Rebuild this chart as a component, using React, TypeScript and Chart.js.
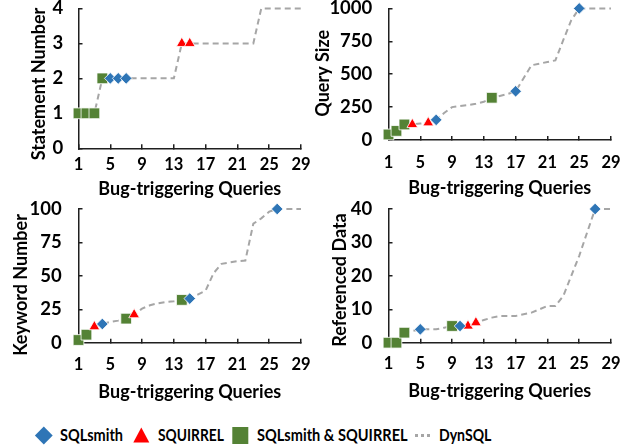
import React, { useEffect, useRef } from "react";
import { Chart, registerables } from "chart.js";

Chart.register(...registerables);

const FONT = "Lato, 'Open Sans', sans-serif";
const BLUE = "#2E75B6";
const RED = "#FF0000";
const GREEN = "#548235";
const GRAY = "#A6A6A6";
const AXIS = "#1f1f1f";

// ---------- data ----------
const queryIndex = [1, 2, 3, 4, 5, 6, 7, 8, 9, 10, 11, 12, 13, 14, 15, 16, 17, 18, 19, 20, 21, 22, 23, 24, 25, 26, 27, 28, 29];
const xTickValues = [1, 5, 9, 13, 17, 21, 25, 29];
const xAxisTitle = "Bug-triggering Queries";

// Statement Number
const stmtYTicks = [0, 1, 2, 3, 4];
const stmtDynSQL = [1, 1, 1, 2, 2, 2, 2, 2, 2, 2, 2, 2, 2, 3, 3, 3, 3, 3, 3, 3, 3, 3, 3, 4, 4, 4, 4, 4, 4];
const stmtSqlsmithX = [5, 6, 7];
const stmtSqlsmithY = [2, 2, 2];
const stmtSquirrelX = [14, 15];
const stmtSquirrelY = [3, 3];
const stmtBothX = [1, 2, 3, 4];
const stmtBothY = [1, 1, 1, 2];

// Query Size
const sizeYTicks = [0, 250, 500, 750, 1000];
const sizeDynSQL = [42, 69, 118, 118, 125, 131, 153, 205, 250, 258, 265, 275, 290, 321, 335, 350, 370, 470, 568, 580, 593, 605, 760, 910, 1000, 1000, 1000, 1000, 1000];
const sizeSqlsmithX = [7, 17, 25];
const sizeSqlsmithY = [153, 370, 1000];
const sizeSquirrelX = [4, 6];
const sizeSquirrelY = [118, 131];
const sizeBothX = [1, 2, 3, 14];
const sizeBothY = [42, 69, 118, 321];

// Keyword Number
const kwYTicks = [0, 25, 50, 75, 100];
const kwDynSQL = [2, 6, 12, 14, 15.5, 16.5, 18, 21, 25.5, 28, 29.5, 30.5, 31, 32, 33, 36, 39, 52, 59, 60, 61, 61.5, 89, 93, 98, 100, 100, 100, 100];
const kwSqlsmithX = [4, 15, 26];
const kwSqlsmithY = [14, 33, 100];
const kwSquirrelX = [3, 8];
const kwSquirrelY = [12, 21];
const kwBothX = [1, 2, 7, 14];
const kwBothY = [2, 6, 18, 32];

// Referenced Data
const refYTicks = [0, 10, 20, 30, 40];
const refDynSQL = [0, 0, 3, 3.5, 4, 4, 4, 4.5, 5, 5, 5, 6, 6.8, 7.5, 8, 8, 8, 8.5, 9, 10, 11, 11, 14, 20, 26, 33, 40, 40, 40];
const refSqlsmithX = [5, 10, 27];
const refSqlsmithY = [4, 5, 40];
const refSquirrelX = [11, 12];
const refSquirrelY = [5, 6];
const refBothX = [1, 2, 3, 9];
const refBothY = [0, 0, 3, 5];

const legendLabels = ["SQLsmith", "SQUIRREL", "SQLsmith & SQUIRREL", "DynSQL"];

// ---------- panels (layout in page pixels) ----------
type Geom = {
  cl: number; ct: number; cw: number; ch: number;
  left: number; right: number; top: number; bottom: number;
  xTickY: number; xTitleY: number; yTickRight: number; yTitleX: number; yTitleY: number;
};
type PanelDef = {
  yTitle: string; yTicks: number[]; dyn: number[];
  smX: number[]; smY: number[]; sqX: number[]; sqY: number[]; bX: number[]; bY: number[];
  g: Geom;
};

const panels: PanelDef[] = [
  {
    yTitle: "Statement Number", yTicks: stmtYTicks, dyn: stmtDynSQL,
    smX: stmtSqlsmithX, smY: stmtSqlsmithY, sqX: stmtSquirrelX, sqY: stmtSquirrelY, bX: stmtBothX, bY: stmtBothY,
    g: { cl: 0, ct: 0, cw: 315, ch: 200, left: 78.5, right: 301, top: 5, bottom: 148.3, xTickY: 164.7, xTitleY: 189.3, yTickRight: 63.3, yTitleX: 39.3, yTitleY: 84 },
  },
  {
    yTitle: "Query Size", yTicks: sizeYTicks, dyn: sizeDynSQL,
    smX: sizeSqlsmithX, smY: sizeSqlsmithY, sqX: sizeSquirrelX, sqY: sizeSquirrelY, bX: sizeBothX, bY: sizeBothY,
    g: { cl: 305, ct: 0, cw: 326, ch: 200, left: 388.5, right: 611, top: 5, bottom: 140, xTickY: 163, xTitleY: 188, yTickRight: 372.3, yTitleX: 323.3, yTitleY: 73.3 },
  },
  {
    yTitle: "Keyword Number", yTicks: kwYTicks, dyn: kwDynSQL,
    smX: kwSqlsmithX, smY: kwSqlsmithY, sqX: kwSquirrelX, sqY: kwSquirrelY, bX: kwBothX, bY: kwBothY,
    g: { cl: 0, ct: 200, cw: 315, ch: 210, left: 78.5, right: 301, top: 209, bottom: 342.7, xTickY: 365, xTitleY: 391.7, yTickRight: 61.7, yTitleX: 20.8, yTitleY: 285 },
  },
  {
    yTitle: "Referenced Data", yTicks: refYTicks, dyn: refDynSQL,
    smX: refSqlsmithX, smY: refSqlsmithY, sqX: refSquirrelX, sqY: refSquirrelY, bX: refBothX, bY: refBothY,
    g: { cl: 305, ct: 200, cw: 326, ch: 210, left: 388.5, right: 611, top: 209, bottom: 342.7, xTickY: 363.3, xTitleY: 390.7, yTickRight: 372.3, yTitleX: 340, yTitleY: 280 },
  },
];

const TICK_LEN = 4;
const X_TICK_FONT = 16.5;
const Y_TICK_FONT = 18.5;
const TITLE_FONT = 18;
const LEGEND_FONT = 17;

function pts(xs: number[], ys: number[]) {
  return xs.map((x, i) => ({ x, y: ys[i] }));
}

function Panel({ p }: { p: PanelDef }) {
  const ref = useRef<HTMLCanvasElement>(null);
  const g = p.g;
  useEffect(() => {
    if (!ref.current) return;
    const yW = g.left - g.cl;
    const padRight = g.cl + g.cw - g.right;
    const padTop = g.top - g.ct;
    const xH = g.ct + g.ch - g.bottom;
    const xTickPad = g.xTickY - g.bottom + TICK_LEN - (X_TICK_FONT * 1.2) / 2;
    const xTitlePad = Math.max(0, g.ct + g.ch - g.xTitleY - (TITLE_FONT * 1.2) / 2);
    const yTickPad = g.left + TICK_LEN - g.yTickRight;

    const yTitlePlugin = {
      id: "yTitle",
      afterDraw(chart: any) {
        const ctx = chart.ctx;
        ctx.save();
        ctx.translate(g.yTitleX - g.cl, g.yTitleY - g.ct);
        ctx.rotate(-Math.PI / 2);
        ctx.font = `bold ${TITLE_FONT}px ${FONT}`;
        ctx.fillStyle = "#000";
        ctx.textAlign = "center";
        ctx.textBaseline = "middle";
        ctx.fillText(p.yTitle, 0, 0);
        ctx.restore();
      },
    };

    const chart = new Chart(ref.current, {
      type: "scatter",
      data: {
        datasets: [
          {
            label: legendLabels[0],
            data: pts(p.smX, p.smY),
            pointStyle: "rectRot",
            pointRadius: 5.8,
            backgroundColor: BLUE,
            borderColor: "#ffffff",
            borderWidth: 0.8,
            order: 1,
            clip: false,
          },
          {
            label: legendLabels[1],
            data: pts(p.sqX, p.sqY),
            pointStyle: "triangle",
            pointRadius: 6.2,
            backgroundColor: RED,
            borderColor: "#ffffff",
            borderWidth: 0.8,
            order: 2,
            clip: false,
          },
          {
            label: legendLabels[2],
            data: pts(p.bX, p.bY),
            pointStyle: "rect",
            pointRadius: 7.6,
            backgroundColor: GREEN,
            borderColor: "#ffffff",
            borderWidth: 0.8,
            order: 3,
            clip: false,
          },
          {
            label: legendLabels[3],
            data: pts(queryIndex, p.dyn),
            showLine: true,
            pointRadius: 0,
            borderColor: GRAY,
            backgroundColor: GRAY,
            borderWidth: 2,
            borderDash: [6, 4],
            tension: 0,
            order: 4,
            clip: false,
          },
        ] as any,
      },
      options: {
        responsive: false,
        animation: false,
        devicePixelRatio: 1,
        layout: { padding: { left: 0, top: padTop, right: padRight, bottom: 0 } },
        plugins: { legend: { display: false }, tooltip: { enabled: false } },
        scales: {
          x: {
            type: "linear",
            min: 1,
            max: 29,
            afterBuildTicks: (s: any) => {
              s.ticks = xTickValues.map((v) => ({ value: v }));
            },
            afterFit: (s: any) => {
              s.height = xH;
              s.paddingLeft = 0;
              s.paddingRight = 0;
            },
            ticks: {
              autoSkip: false,
              maxRotation: 0,
              padding: xTickPad,
              color: "#000",
              font: { family: FONT, size: X_TICK_FONT, weight: "bold" },
              callback: (v: any) => String(v),
            },
            grid: {
              display: true,
              drawOnChartArea: false,
              drawTicks: true,
              tickLength: -TICK_LEN,
              color: AXIS,
              lineWidth: 1.5,
            },
            border: { display: true, color: AXIS, width: 1.5 },
            title: {
              display: true,
              text: xAxisTitle,
              color: "#000",
              font: { family: FONT, size: TITLE_FONT, weight: "bold" },
              padding: { top: 0, bottom: xTitlePad },
            },
          },
          y: {
            type: "linear",
            min: p.yTicks[0],
            max: p.yTicks[p.yTicks.length - 1],
            afterBuildTicks: (s: any) => {
              s.ticks = p.yTicks.map((v) => ({ value: v }));
            },
            afterFit: (s: any) => {
              s.width = yW;
              s.paddingTop = 0;
              s.paddingBottom = 0;
            },
            ticks: {
              padding: yTickPad,
              color: "#000",
              font: { family: FONT, size: Y_TICK_FONT, weight: "bold" },
              callback: (v: any) => String(v),
            },
            grid: {
              display: true,
              drawOnChartArea: false,
              drawTicks: true,
              tickLength: -TICK_LEN,
              color: AXIS,
              lineWidth: 1.5,
            },
            border: { display: true, color: AXIS, width: 1.5 },
          },
        },
      } as any,
      plugins: [yTitlePlugin],
    });
    return () => chart.destroy();
  }, []);
  return (
    <canvas
      ref={ref}
      width={g.cw}
      height={g.ch}
      style={{ position: "absolute", left: g.cl, top: g.ct, width: g.cw, height: g.ch }}
    />
  );
}

// legend text: left edge and target width (page px)
const legendLayout = [
  { left: 60, width: 63 },
  { left: 158.3, width: 66 },
  { left: 256.7, width: 150.6 },
  { left: 439.3, width: 52.4 },
];

function FitText({ text, left, width }: { text: string; left: number; width: number }) {
  let scale = 1;
  try {
    const c = document.createElement("canvas").getContext("2d");
    if (c) {
      c.font = `bold ${LEGEND_FONT}px ${FONT}`;
      const w = c.measureText(text).width;
      if (w > 0) scale = width / w;
    }
  } catch (e) {
    scale = 1;
  }
  return (
    <span
      style={{
        position: "absolute",
        left,
        top: 424.5,
        font: `bold ${LEGEND_FONT}px ${FONT}`,
        lineHeight: "20px",
        color: "#000",
        whiteSpace: "nowrap",
        transform: `scaleX(${scale})`,
        transformOrigin: "0 50%",
      }}
    >
      {text}
    </span>
  );
}

function Legend() {
  return (
    <>
      <svg style={{ position: "absolute", left: 0, top: 410 }} width={631} height={38}>
        <polygon points="43.8,16.5 52.7,25.5 43.8,34.5 34.9,25.5" fill={BLUE} />
        <polygon points="141.3,17.5 149.3,32.5 133.3,32.5" fill={RED} />
        <rect x={232.3} y={17} width={16} height={17} fill={GREEN} />
        <rect x={415} y={24} width={3} height={3} fill={GRAY} />
        <rect x={421} y={24} width={3} height={3} fill={GRAY} />
        <rect x={427} y={24} width={3} height={3} fill={GRAY} />
      </svg>
      {legendLabels.map((t, i) => (
        <FitText key={i} text={t} left={legendLayout[i].left} width={legendLayout[i].width} />
      ))}
    </>
  );
}

export default function App() {
  return (
    <div style={{ position: "absolute", left: 0, top: 0, width: 631, height: 448, background: "#fff", overflow: "hidden" }}>
      {panels.map((p, i) => (
        <Panel key={i} p={p} />
      ))}
      <Legend />
    </div>
  );
}
